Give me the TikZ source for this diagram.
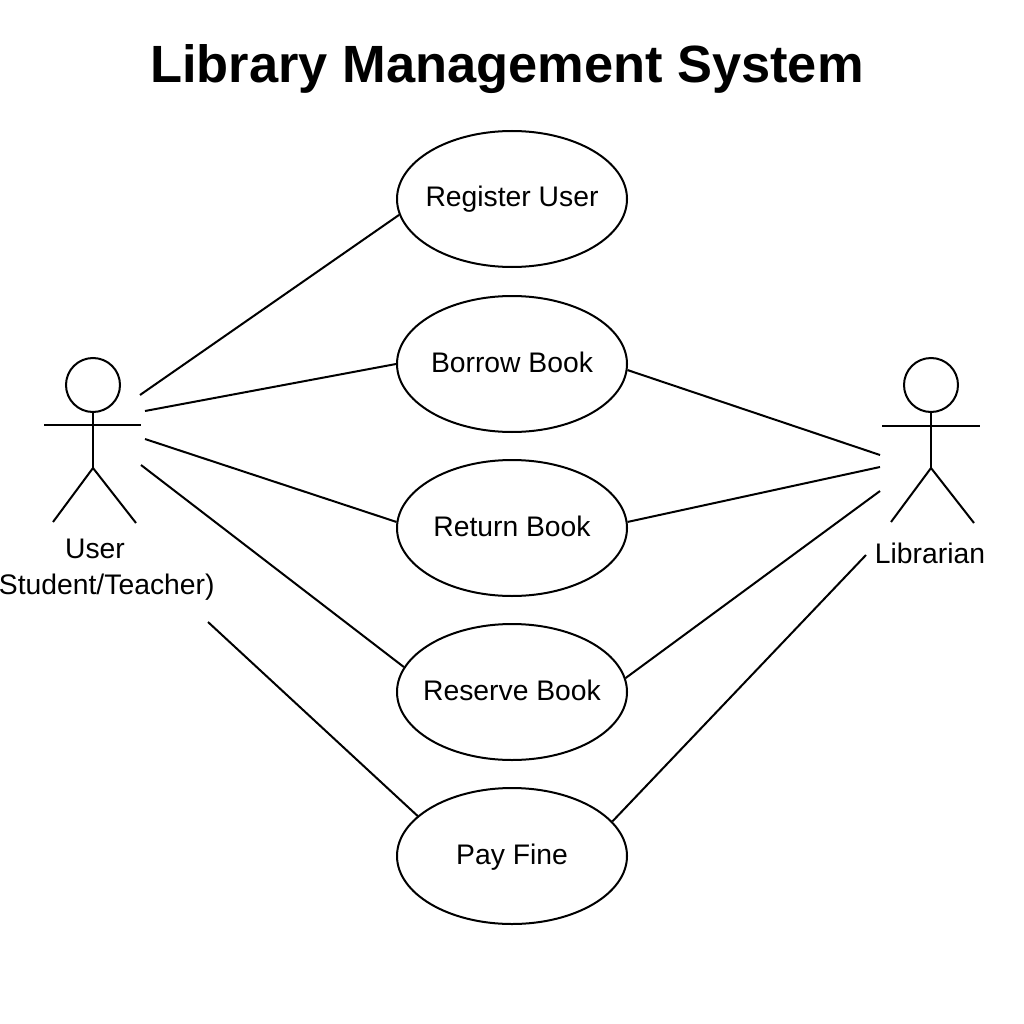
\documentclass[tikz,border=0pt]{standalone}
\usepackage{fontspec}
\setmainfont{Liberation Sans}
\usetikzlibrary{positioning,shapes.geometric}
\tikzset{
    usecase/.style={draw,ellipse,line width=2pt,minimum width=230pt,minimum height=136pt,inner xsep=-30pt,inner ysep=0pt,text height=22pt,text depth=6pt,font=\fontsize{28.3}{32}\selectfont},
    actorhead/.style={draw,circle,line width=2pt,minimum size=54pt,inner sep=0pt},
    actorname/.style={inner sep=0pt,font=\fontsize{28.3}{32}\selectfont},
    link/.style={line width=2pt}
}

\begin{document}
\begin{tikzpicture}[x=1pt,y=-1pt]
    \useasboundingbox (0,0) rectangle (1024,1024);

    % Title
    \node[inner sep=0pt,font=\bfseries\fontsize{52.4}{58}\selectfont] (title) at (507,69) {Library Management System};

    % Use cases
    \node[usecase] (register) at (512,199) {Register User};
    \node[usecase] (borrow) at (512,364) {Borrow Book};
    \node[usecase] (return) at (512,528) {Return Book};
    \node[usecase] (reserve) at (512,692) {Reserve Book};
    \node[usecase] (payfine) at (512,856) {Pay Fine};

    % User actor
    \node[actorhead] (userhead) at (93,385) {};
    \coordinate (userhip) at (93,468);
    \coordinate (userarml) at (44,425);
    \coordinate (userarmr) at (141,425);
    \coordinate (userlegl) at (53,522);
    \coordinate (userlegr) at (136,523);
    \draw[link] (userhead) -- (userhip);
    \draw[link] (userarml) -- (userarmr);
    \draw[link] (userlegl) -- (userhip) -- (userlegr);
    \node[actorname] (username) at (95,549) {User};
    \node[actorname] (userrole) at (102,587) {(Student/Teacher)};

    % Librarian actor
    \node[actorhead] (libhead) at (931,385) {};
    \coordinate (libhip) at (931,468);
    \coordinate (libarml) at (882,426);
    \coordinate (libarmr) at (980,426);
    \coordinate (liblegl) at (891,522);
    \coordinate (liblegr) at (974,523);
    \draw[link] (libhead) -- (libhip);
    \draw[link] (libarml) -- (libarmr);
    \draw[link] (liblegl) -- (libhip) -- (liblegr);
    \node[actorname] (libname) at (930,553) {Librarian};

    % Free ends of the connectors
    \coordinate (ua) at (140,395);
    \coordinate (ub) at (145,411);
    \coordinate (uc) at (145,439);
    \coordinate (ud) at (141,465);
    \coordinate (ue) at (208,622);
    \coordinate (lb) at (880,455);
    \coordinate (lc) at (880,467);
    \coordinate (ld) at (880,491);
    \coordinate (le) at (866,555);

    \draw[link] (ua) -- (register.188);
    \draw[link] (ub) -- (borrow.180);
    \draw[link] (uc) -- (return.177);
    \draw[link] (ud) -- (reserve.167);
    \draw[link] (ue) -- (payfine.157);

    \draw[link] (borrow.-3) -- (lb);
    \draw[link] (return.3) -- (lc);
    \draw[link] (reserve.7) -- (ld);
    \draw[link] (payfine.19) -- (le);
\end{tikzpicture}
\end{document}
